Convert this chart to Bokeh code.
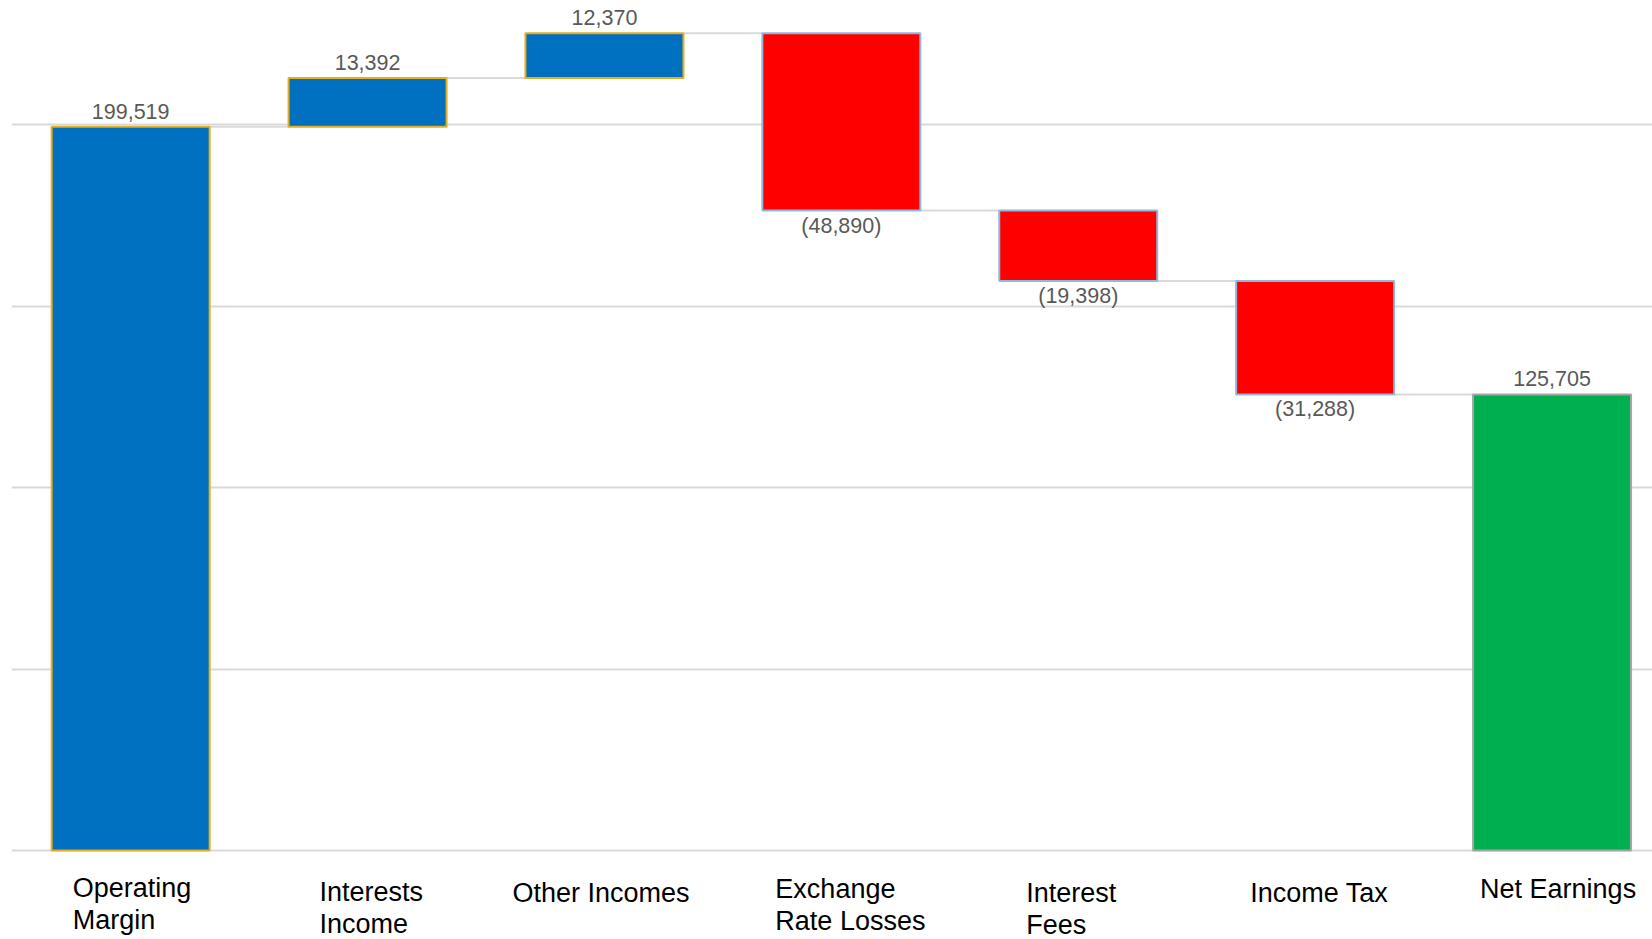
from bokeh.plotting import figure
from bokeh.models import Range1d, FixedTicker, ColumnDataSource
from bokeh.core.properties import value
from bokeh.embed import file_html
from bokeh.resources import INLINE

# ---- data ----
categories = ["Operating\nMargin", "Interests\nIncome", "Other Incomes",
              "Exchange\nRate Losses", "Interest\nFees", "Income Tax", "Net Earnings"]
amounts = [199519, 13392, 12370, -48890, -19398, -31288, 125705]
kinds = ["total", "delta", "delta", "delta", "delta", "delta", "total"]
value_labels = ["199,519", "13,392", "12,370", "(48,890)", "(19,398)", "(31,288)", "125,705"]
grid_ticks = [0, 50000, 100000, 150000, 200000]

# ---- styles ----
BAR_W = 0.667
fill_pos, line_pos = "#0070C0", "#E8AC1C"
fill_neg, line_neg = "#FF0000", "#8DB9DC"
fill_tot, line_tot = "#00B050", "#A6A6A6"
# label placement tweaks (screen px) for left-aligned text blocks
lab_dx = [-58, -48, -92, -66, -52, -65, -72]
lab_dy = [22, 26, 27, 23, 27, 27, 23]

# ---- waterfall geometry from data ----
idx = list(range(len(categories)))
bottoms, tops, fills, lines, ends = [], [], [], [], []
running = 0
for n, (a, k) in enumerate(zip(amounts, kinds)):
    if k == "total":
        b, t = 0, a
        running = a
        if n == 0:
            fills.append(fill_pos); lines.append(line_pos)
        else:
            fills.append(fill_tot); lines.append(line_tot)
    else:
        b, t = running, running + a
        running += a
        fills.append(fill_pos if a >= 0 else fill_neg)
        lines.append(line_pos if a >= 0 else line_neg)
    bottoms.append(min(b, t))
    tops.append(max(b, t))
    ends.append(running)

src = ColumnDataSource(dict(x=idx, bottom=bottoms, top=tops, fill=fills, line=lines))

p = figure(width=1652, height=939, output_backend="svg", toolbar_location=None,
           x_range=Range1d(-0.503, 6.424), y_range=Range1d(-24530, 234290),
           min_border_left=11, min_border_right=0, min_border_top=0, min_border_bottom=0)
p.outline_line_color = None
p.xaxis.visible = False
p.yaxis.visible = False
p.xgrid.visible = False
p.ygrid.ticker = FixedTicker(ticks=grid_ticks)
p.ygrid.grid_line_color = "#D9D9D9"
p.ygrid.grid_line_width = 2
p.background_fill_color = "white"
p.border_fill_color = "white"

# connectors
cx0 = [i + BAR_W / 2 for i in idx[:-1]]
cx1 = [i + 1 - BAR_W / 2 for i in idx[:-1]]
cy = ends[:-1]
p.segment(x0=cx0, y0=cy, x1=cx1, y1=cy, line_color="#D9D9D9", line_width=2)

p.vbar(x="x", bottom="bottom", top="top", width=BAR_W, fill_color="fill",
       line_color="line", line_width=2, source=src)

# value labels
pos_x = [i for i, a in zip(idx, amounts) if a >= 0]
pos_y = [t for t, a in zip(tops, amounts) if a >= 0]
pos_t = [l for l, a in zip(value_labels, amounts) if a >= 0]
neg_x = [i for i, a in zip(idx, amounts) if a < 0]
neg_y = [b for b, a in zip(bottoms, amounts) if a < 0]
neg_t = [l for l, a in zip(value_labels, amounts) if a < 0]
p.text(x=pos_x, y=pos_y, text=pos_t, text_align="center", text_baseline="bottom",
       y_offset=-8, text_font=value("Liberation Sans"), text_font_size="21.5px",
       text_color="#595959")
p.text(x=neg_x, y=neg_y, text=neg_t, text_align="center", text_baseline="top",
       y_offset=3, text_font=value("Liberation Sans"), text_font_size="21.5px",
       text_color="#595959")

# category labels
p.text(x=idx, y=[0] * len(idx), text=categories, text_align="left", text_baseline="top",
       x_offset=lab_dx, y_offset=lab_dy, text_font=value("Liberation Sans"),
       text_font_size="27px", text_color="#000000", text_line_height=1.09)

open("out.html", "w").write(file_html(p, INLINE))
